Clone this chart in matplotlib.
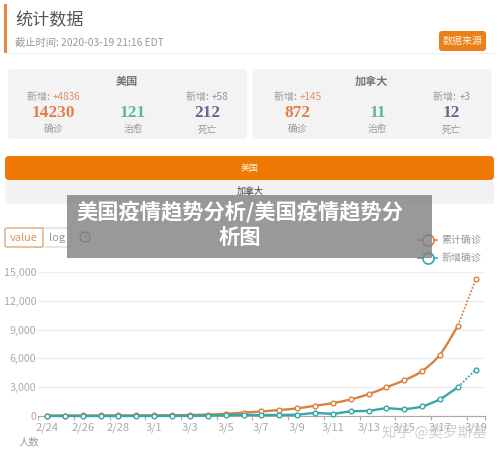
import matplotlib
matplotlib.use("Agg")
import matplotlib.pyplot as plt
from matplotlib.patches import FancyBboxPatch, Rectangle, Circle, PathPatch
from matplotlib.path import Path

plt.rcParams['font.family'] = ['Noto Sans CJK SC', 'DejaVu Sans']

dates = ['2/24','2/25','2/26','2/27','2/28','2/29','3/1','3/2','3/3','3/4','3/5','3/6','3/7',
         '3/8','3/9','3/10','3/11','3/12','3/13','3/14','3/15','3/16','3/17','3/18','3/19']
total_cases = [50,52,55,58,60,66,72,85,105,150,230,350,480,620,793,1069,1345,1724,2276,3000,3724,4690,6400,9400,14230]
new_cases = [5,2,3,3,2,6,6,13,20,45,80,120,100,120,140,310,240,480,550,793,724,1000,1760,3000,4836]
yticks = [0,3000,6000,9000,12000,15000]
panels = [
    dict(name='美国', new_conf='+4836', conf='14230', cured='121', dead='212', new_dead='+58'),
    dict(name='加拿大', new_conf='+145', conf='872', cured='11', dead='12', new_dead='+3'),
]
title_lines = ['美国疫情趋势分析/美国疫情趋势分', '析图']

W, H = 500, 454
ORANGE, TEAL = '#d9823f', '#37a6a6'
fig = plt.figure(figsize=(W/100, H/100), dpi=100, facecolor='white')

ui = fig.add_axes([0, 0, 1, 1], zorder=1)
ui.set_xlim(0, W); ui.set_ylim(H, 0); ui.axis('off')

def box(x0, y0, x1, y1, fc, ec='none', r=3, lw=1, z=1):
    ui.add_patch(FancyBboxPatch((x0+r, y0+r), x1-x0-2*r, y1-y0-2*r,
                 boxstyle=f'round,pad={r},rounding_size={r}', fc=fc, ec=ec, lw=lw, zorder=z))

def t(x, y, s, size, color, ha='center', weight='normal', family=None, z=3):
    kw = dict(family=family) if family else {}
    ui.text(x, y, s, fontsize=size, color=color, ha=ha, va='center', weight=weight, zorder=z, **kw)

def new_line(c, value, color):
    split = c + (24 - len(value)*5.3)/2
    t(split, 97, '新增: ', 7.2, '#999999', ha='right')
    t(split+1, 97, value, 7.2, color, ha='left')

# header
ui.add_patch(Rectangle((4, 4), 3, 49, fc='#e08a45', ec='none'))
ui.plot([7, 495], [53, 53], color='#eeeeee', lw=0.8)
t(15, 20, '统计数据', 12.3, '#555555', ha='left')
t(15, 43, '截止时间: 2020-03-19 21:16 EDT', 7.4, '#999999', ha='left')
box(439, 31, 486, 51, '#e9801a')
t(462.5, 41, '数据来源', 7.2, '#fff3dd')

# summary panels
for p, x0 in zip(panels, (8, 252.5)):
    box(x0, 69, x0+239, 139, '#f3f3f4')
    c1, c2, c3 = x0+45, x0+125, x0+199
    t(x0+119, 81, p['name'], 8, '#777777', weight='bold')
    new_line(c1, p['new_conf'], '#e0906a')
    new_line(c3, p['new_dead'], '#8a8fa8')
    t(c1, 113, p['conf'], 12.4, '#df7f4a', weight='bold', family='Liberation Serif')
    t(c2, 113, p['cured'], 12.4, '#58b8a4', weight='bold', family='Liberation Serif')
    t(c3, 113, p['dead'], 12.4, '#5f6c8c', weight='bold', family='Liberation Serif')
    t(c1, 129, '确诊', 7, '#999999')
    t(c2, 129, '治愈', 7, '#999999')
    t(c3, 129, '死亡', 7, '#999999')

# country buttons
box(5, 180, 494, 204, '#f2f2f3', r=4)
box(5, 156, 494, 180, '#ee7a05', r=4, z=2)
t(250, 168, panels[0]['name'], 6.5, '#fff3dd')
t(250, 191.5, panels[1]['name'], 6.5, '#444444')

# value/log switch
box(33, 228, 71, 247, 'white', ec='#dddddd', r=2)
box(5, 228, 43, 247, 'white', ec='#e2a875', r=2, z=2)
t(24, 238, 'value', 8, '#e2955c')
t(57, 238, 'log', 8, '#999999')
ui.add_patch(Circle((85, 237), 5, fc='none', ec='#4f8fa8', lw=1, zorder=3))
t(85, 237, 'i', 5.5, '#4f8fa8', family='DejaVu Sans')

# legend
for y, col, lab in ((240, '#d9823f', '累计确诊'), (258, '#37a6a6', '新增确诊')):
    ui.plot([418, 437], [y, y], color=col, lw=1.2, zorder=2)
    ui.plot([427.5], [y], 'o', ms=8, mfc='white', mec=col, mew=1.2, zorder=3)
    t(442, y, lab, 7.2, '#999999', ha='left')

t(29, 442, '人数', 7.5, '#999999')

# chart
left, right, top, bottom = 38.1, 484.7, 272, 416
ax = fig.add_axes([left/W, 1-bottom/H, (right-left)/W, (bottom-top)/H], zorder=2)
ax.patch.set_alpha(0)
ax.set_xlim(-0.5, len(dates)-0.5)
ax.set_ylim(0, 15000)
for s in ('top', 'right', 'left'):
    ax.spines[s].set_visible(False)
ax.spines['bottom'].set_color('#aaaaaa')
ax.spines['bottom'].set_linewidth(0.8)
ax.set_yticks(yticks, [f'{v:,}' for v in yticks])
ax.tick_params(axis='y', length=0, pad=1.5, labelsize=7.7, labelcolor='#aaaaaa')
ax.grid(axis='y', color='#eeeeee', lw=1)
ax.set_axisbelow(True)
xs = list(range(len(dates)))
ax.set_xticks(xs[::2], dates[::2])
ax.tick_params(axis='x', which='major', length=0, pad=5, labelsize=8, labelcolor='#aaaaaa')
ax.set_xticks([x-0.5 for x in xs[::2]] + [len(dates)-0.5], minor=True)
ax.tick_params(axis='x', which='minor', length=3, width=0.8, color='#aaaaaa')

def smooth_path(xv, yv, k=0.16):
    verts = [(xv[0], yv[0])]
    codes = [Path.MOVETO]
    n = len(xv)
    for i in range(n-1):
        a, b = max(i-1, 0), min(i+2, n-1)
        verts += [(xv[i]+(xv[i+1]-xv[a])*k, yv[i]+(yv[i+1]-yv[a])*k),
                  (xv[i+1]-(xv[b]-xv[i])*k, yv[i+1]-(yv[b]-yv[i])*k),
                  (xv[i+1], yv[i+1])]
        codes += [Path.CURVE4]*3
    return Path(verts, codes)

for vals, col, z in ((total_cases, ORANGE, 3), (new_cases, TEAL, 4)):
    ax.add_patch(PathPatch(smooth_path(xs[:-1], vals[:-1]), fc='none', ec=col, lw=1.7, zorder=z, clip_on=False))
    ax.plot(xs[-2:], vals[-2:], color=col, lw=1.3, ls=(0, (1, 1)), zorder=z)
    ax.plot(xs, vals, 'o', ms=3.4, mfc='white', mec=col, mew=1.0, zorder=z+0.5, clip_on=False)

# overlay title band and watermark
top_ax = fig.add_axes([0, 0, 1, 1], zorder=5)
top_ax.set_xlim(0, W); top_ax.set_ylim(H, 0); top_ax.axis('off')
top_ax.add_patch(Rectangle((67, 195), 365, 63, fc='#808080', alpha=0.8, ec='none'))
for y, line in zip((212, 238), title_lines):
    top_ax.text(240, y, line, fontsize=15.3, color='white', weight='bold', ha='center', va='center')
top_ax.text(434, 433, '知乎 @奥罗斯基', fontsize=10.5, color='#c8c8c8', alpha=0.85, ha='center', va='center')

fig.savefig('out.png', dpi=100)
